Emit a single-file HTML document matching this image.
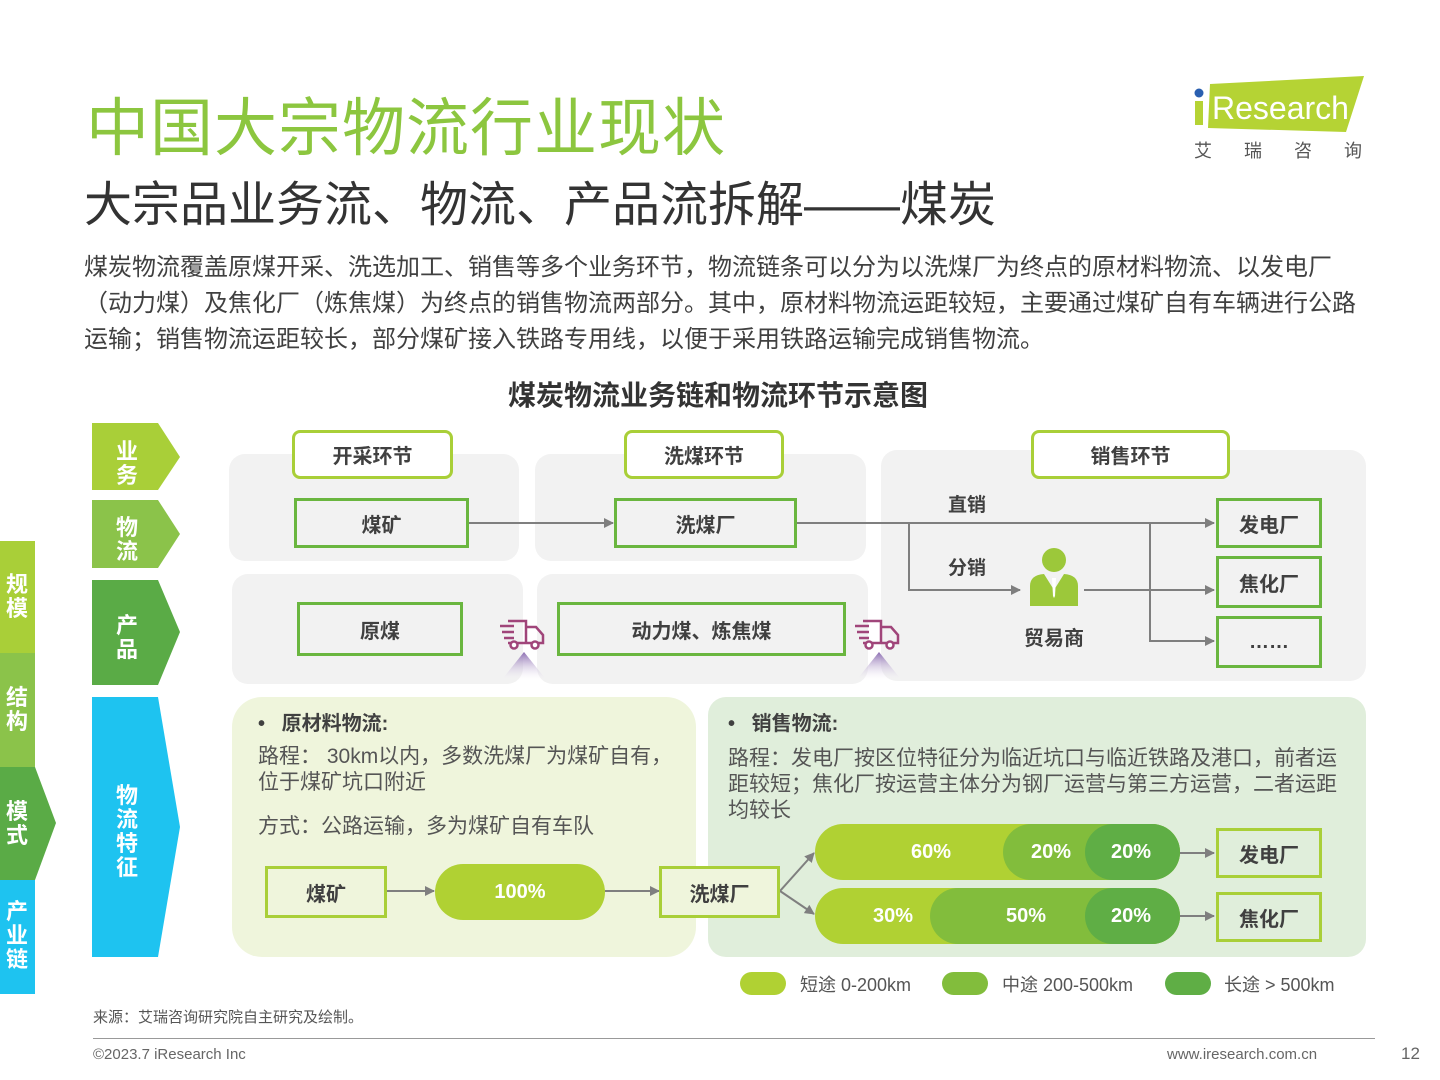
<!DOCTYPE html>
<html><head><meta charset="utf-8"><style>
*{margin:0;padding:0;box-sizing:border-box}
body{width:1440px;height:1080px;background:#fff;position:relative;overflow:hidden;font-family:"Liberation Sans","Noto Sans CJK SC",sans-serif;color:#333}
.a{position:absolute}
.t{white-space:nowrap}
.box{position:absolute;border:3px solid #6ab63f;background:#f2f2f2;display:flex;align-items:center;justify-content:center;font-weight:bold;font-size:20px;color:#404040}
.hdr{position:absolute;border:3px solid #a9cf38;background:#fff;border-radius:8px;display:flex;align-items:center;justify-content:center;font-weight:bold;font-size:20px;color:#404040}
.panel{position:absolute;background:#f2f2f2;border-radius:16px}
.vt{position:absolute;color:#fff;font-weight:bold;font-size:22px;line-height:24px;text-align:center}
.pill{position:absolute;border-radius:30px;color:#fff;font-weight:bold;font-size:20px;display:flex;align-items:center;justify-content:center}
</style></head><body>

<div class="a t" style="left:86px;top:78px;font-size:63px;color:#8cc63f;letter-spacing:1px">中国大宗物流行业现状</div>
<div class="a t" style="left:84px;top:165px;font-size:48px;color:#333">大宗品业务流、物流、产品流拆解——煤炭</div>
<div class="a" style="left:84px;top:250px;width:1340px;font-size:24px;line-height:36px;color:#404040">煤炭物流覆盖原煤开采、洗选加工、销售等多个业务环节，物流链条可以分为以洗煤厂为终点的原材料物流、以发电厂<br>（动力煤）及焦化厂（炼焦煤）为终点的销售物流两部分。其中，原材料物流运距较短，主要通过煤矿自有车辆进行公路<br>运输；销售物流运距较长，部分煤矿接入铁路专用线，以便于采用铁路运输完成销售物流。</div>

<svg class="a" style="left:1188px;top:74px" width="180" height="90">
<polygon points="22,10 176,2 158,58 20,54" fill="#b5d334"/>
<circle cx="11" cy="19" r="4.5" fill="#2a5fb0"/>
<rect x="7" y="27" width="8" height="24" fill="#b5d334"/>
<text x="24" y="45" font-family="Liberation Sans" font-size="32" fill="#fff">Research</text>
<text x="6" y="83" font-family="Noto Sans CJK SC" font-size="18" fill="#555" letter-spacing="32">艾瑞咨询</text>
</svg>

<div class="a t" style="left:0;width:1436px;text-align:center;top:374px;font-size:28px;font-weight:bold;color:#333">煤炭物流业务链和物流环节示意图</div>

<div class="a" style="left:0;top:541px;width:35px;height:112px;background:#a9cf38"></div>
<div class="vt" style="left:0;top:573px;width:34px">规<br>模</div>
<div class="a" style="left:0;top:653px;width:35px;height:114px;background:#8bc34a"></div>
<div class="vt" style="left:0;top:686px;width:34px">结<br>构</div>
<svg class="a" style="left:0;top:767px" width="58" height="113"><polygon points="0,0 35,0 56,56 35,113 0,113" fill="#5aab46"/></svg>
<div class="vt" style="left:0;top:800px;width:34px">模<br>式</div>
<div class="a" style="left:0;top:880px;width:35px;height:114px;background:#1ec3f0"></div>
<div class="vt" style="left:0;top:900px;width:34px">产<br>业<br>链</div>

<svg class="a" style="left:92px;top:420px" width="92" height="540">
<polygon points="0,3 66,3 88,37 66,70 0,70" fill="#a9cf38"/>
<polygon points="0,80 66,80 88,114 66,148 0,148" fill="#8bc34a"/>
<polygon points="0,160 66,160 88,212 66,265 0,265" fill="#5aab46"/>
<polygon points="0,277 66,277 88,407 66,537 0,537" fill="#1ec3f0"/>
</svg>
<div class="vt" style="left:112px;top:440px;width:30px">业<br>务</div>
<div class="vt" style="left:112px;top:516px;width:30px">物<br>流</div>
<div class="vt" style="left:112px;top:614px;width:30px">产<br>品</div>
<div class="vt" style="left:112px;top:784px;width:30px">物<br>流<br>特<br>征</div>

<div class="panel" style="left:229px;top:454px;width:290px;height:107px"></div>
<div class="panel" style="left:535px;top:454px;width:331px;height:107px"></div>
<div class="panel" style="left:881px;top:450px;width:485px;height:231px"></div>
<div class="panel" style="left:232px;top:574px;width:291px;height:110px"></div>
<div class="panel" style="left:537px;top:574px;width:331px;height:110px"></div>

<div class="hdr" style="left:292px;top:430px;width:161px;height:49px">开采环节</div>
<div class="hdr" style="left:624px;top:430px;width:160px;height:49px">洗煤环节</div>
<div class="hdr" style="left:1031px;top:430px;width:199px;height:49px">销售环节</div>

<div class="box" style="left:294px;top:498px;width:175px;height:50px">煤矿</div>
<div class="box" style="left:614px;top:498px;width:183px;height:50px">洗煤厂</div>
<div class="box" style="left:297px;top:602px;width:166px;height:54px">原煤</div>
<div class="box" style="left:557px;top:602px;width:289px;height:54px">动力煤、炼焦煤</div>
<div class="box" style="left:1216px;top:498px;width:106px;height:50px">发电厂</div>
<div class="box" style="left:1216px;top:556px;width:106px;height:52px">焦化厂</div>
<div class="box" style="left:1216px;top:616px;width:106px;height:52px">……</div>

<div class="a t" style="left:948px;top:490px;font-size:19px;font-weight:bold;color:#404040">直销</div>
<div class="a t" style="left:948px;top:553px;font-size:19px;font-weight:bold;color:#404040">分销</div>
<div class="a t" style="left:1024px;top:622px;font-size:20px;font-weight:bold;color:#404040">贸易商</div>

<svg class="a" style="left:0;top:0" width="1440" height="700">
<defs><marker id="ar" markerWidth="10" markerHeight="10" refX="9" refY="5" orient="auto" markerUnits="userSpaceOnUse"><path d="M0,0 L10,5 L0,10z" fill="#7f7f7f"/></marker>
<linearGradient id="tri" x1="0" y1="0" x2="0" y2="1"><stop offset="0" stop-color="#8a6bb0"/><stop offset="1" stop-color="#fff" stop-opacity="0"/></linearGradient></defs>
<g stroke="#7f7f7f" stroke-width="2" fill="none">
<line x1="469" y1="523" x2="613" y2="523" marker-end="url(#ar)"/>
<line x1="797" y1="523" x2="1214" y2="523" marker-end="url(#ar)"/>
<polyline points="909,523 909,590 1020,590" marker-end="url(#ar)"/>
<line x1="1084" y1="590" x2="1214" y2="590" marker-end="url(#ar)"/>
<polyline points="1150,523 1150,641 1214,641" marker-end="url(#ar)"/>
</g>
<circle cx="1054" cy="560" r="12" fill="#9cc83a"/>
<path d="M1030,606 L1030,586 Q1030,575 1044,574 L1054,590 L1064,574 Q1078,575 1078,586 L1078,606z" fill="#9cc83a"/>
<path d="M1052,578 L1056,578 L1055,596 L1054,598 L1053,596z" fill="#fff"/>
<g stroke="#a0457a" stroke-width="2.5" fill="none">
<path d="M508,621 h18 v22 h-18 M526,627 h10 l7,8 v8 h-17"/><line x1="500" y1="626" x2="514" y2="626"/><line x1="502" y1="632" x2="514" y2="632"/><line x1="504" y1="638" x2="514" y2="638"/>
<circle cx="514" cy="645" r="3.5" fill="#fff"/><circle cx="535" cy="645" r="3.5" fill="#fff"/>
<path d="M863,621 h18 v22 h-18 M881,627 h10 l7,8 v8 h-17"/><line x1="855" y1="626" x2="869" y2="626"/><line x1="857" y1="632" x2="869" y2="632"/><line x1="859" y1="638" x2="869" y2="638"/>
<circle cx="869" cy="645" r="3.5" fill="#fff"/><circle cx="890" cy="645" r="3.5" fill="#fff"/>
</g>
<polygon points="524,652 500,682 548,682" fill="url(#tri)"/>
<polygon points="879,652 855,682 903,682" fill="url(#tri)"/>
</svg>

<div class="a" style="left:232px;top:697px;width:464px;height:260px;background:#eff5dc;border-radius:30px"></div>
<div class="a" style="left:708px;top:697px;width:658px;height:260px;background:#e0eedb;border-radius:18px"></div>
<div class="a t" style="left:258px;top:707px;font-size:20px;font-weight:bold;color:#404040">•&nbsp;&nbsp; 原材料物流:</div>
<div class="a" style="left:258px;top:744px;width:430px;font-size:21px;line-height:26px;color:#555">路程： 30km以内，多数洗煤厂为煤矿自有，<br>位于煤矿坑口附近</div>
<div class="a t" style="left:258px;top:810px;font-size:21px;color:#555">方式：公路运输，多为煤矿自有车队</div>
<div class="a t" style="left:728px;top:707px;font-size:20px;font-weight:bold;color:#404040">•&nbsp;&nbsp; 销售物流:</div>
<div class="a" style="left:728px;top:746px;width:630px;font-size:21px;line-height:26px;color:#555">路程：发电厂按区位特征分为临近坑口与临近铁路及港口，前者运<br>距较短；焦化厂按运营主体分为钢厂运营与第三方运营，二者运距<br>均较长</div>

<svg class="a" style="left:0;top:0" width="1440" height="1080">
<defs><marker id="ar2" markerWidth="10" markerHeight="10" refX="9" refY="5" orient="auto" markerUnits="userSpaceOnUse"><path d="M0,0 L10,5 L0,10z" fill="#7f7f7f"/></marker></defs>
<g stroke="#7f7f7f" stroke-width="2" fill="none">
<line x1="386" y1="891" x2="434" y2="891" marker-end="url(#ar2)"/>
<line x1="605" y1="891" x2="659" y2="891" marker-end="url(#ar2)"/>
<line x1="780" y1="891" x2="814" y2="853" marker-end="url(#ar2)"/>
<line x1="780" y1="891" x2="814" y2="914" marker-end="url(#ar2)"/>
<line x1="1180" y1="853" x2="1214" y2="853" marker-end="url(#ar2)"/>
<line x1="1180" y1="916" x2="1214" y2="916" marker-end="url(#ar2)"/>
</g>
</svg>

<div class="box" style="left:265px;top:866px;width:122px;height:52px;border-color:#a9cf38;background:#eff5dc">煤矿</div>
<div class="pill" style="left:435px;top:864px;width:170px;height:56px;background:#b0d133">100%</div>
<div class="box" style="left:659px;top:866px;width:121px;height:52px;border-color:#a9cf38;background:#eff5dc">洗煤厂</div>

<div class="pill" style="left:815px;top:824px;width:365px;height:56px;background:#b0d133;justify-content:flex-start;padding-left:96px">60%</div>
<div class="pill" style="left:1003px;top:824px;width:177px;height:56px;background:#82bd3c;justify-content:flex-start;padding-left:28px">20%</div>
<div class="pill" style="left:1085px;top:824px;width:95px;height:56px;background:#5fae45;justify-content:flex-start;padding-left:26px">20%</div>
<div class="pill" style="left:815px;top:888px;width:365px;height:56px;background:#b0d133;justify-content:flex-start;padding-left:58px">30%</div>
<div class="pill" style="left:930px;top:888px;width:250px;height:56px;background:#82bd3c;justify-content:flex-start;padding-left:76px">50%</div>
<div class="pill" style="left:1085px;top:888px;width:95px;height:56px;background:#5fae45;justify-content:flex-start;padding-left:26px">20%</div>
<div class="box" style="left:1216px;top:828px;width:106px;height:50px;border-color:#a9cf38;background:#e0eedb">发电厂</div>
<div class="box" style="left:1216px;top:892px;width:106px;height:50px;border-color:#a9cf38;background:#e0eedb">焦化厂</div>

<div class="a" style="left:740px;top:972px;width:46px;height:23px;border-radius:12px;background:#b0d133"></div>
<div class="a t" style="left:800px;top:971px;font-size:18px;color:#555">短途 0-200km</div>
<div class="a" style="left:942px;top:972px;width:46px;height:23px;border-radius:12px;background:#82bd3c"></div>
<div class="a t" style="left:1002px;top:971px;font-size:18px;color:#555">中途 200-500km</div>
<div class="a" style="left:1165px;top:972px;width:46px;height:23px;border-radius:12px;background:#5fae45"></div>
<div class="a t" style="left:1224px;top:971px;font-size:18px;color:#555">长途 &gt; 500km</div>

<div class="a t" style="left:93px;top:1006px;font-size:15px;color:#555">来源：艾瑞咨询研究院自主研究及绘制。</div>
<div class="a" style="left:93px;top:1038px;width:1282px;height:1px;background:#999"></div>
<div class="a t" style="left:93px;top:1046px;font-size:15px;color:#666">©2023.7 iResearch Inc</div>
<div class="a t" style="left:1167px;top:1046px;font-size:15px;color:#666">www.iresearch.com.cn</div>
<div class="a t" style="left:1401px;top:1044px;font-size:17px;color:#666">12</div>
</body></html>
